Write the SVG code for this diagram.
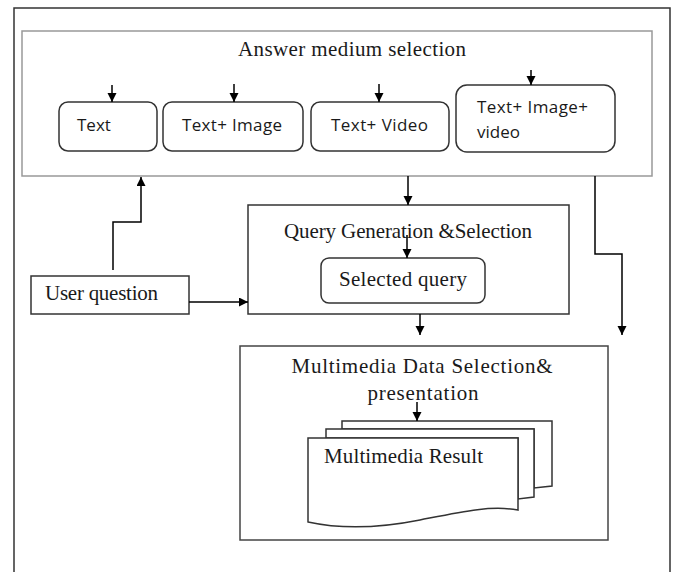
<svg xmlns="http://www.w3.org/2000/svg" width="683" height="572" viewBox="0 0 683 572">
<defs>
<marker id="ah" markerUnits="userSpaceOnUse" markerWidth="10" markerHeight="10" refX="9" refY="4.5" orient="auto">
<path d="M0,0 L9,4.5 L0,9 z" fill="#000"/>
</marker>
</defs>
<style>
.frame{fill:none;stroke:#333;stroke-width:1.5}
.box{fill:#fff;stroke:#333;stroke-width:1.5}
.abox{fill:#fff;stroke:#999;stroke-width:1.5}
.rbox{fill:#fff;stroke:#333;stroke-width:1.5}
.conn{fill:none;stroke:#000;stroke-width:1.5;marker-end:url(#ah)}
.serif{font-family:"Liberation Serif","Times New Roman",serif;font-size:21px;fill:#1a1a1a}
.sans{font-family:"Open Sans","Liberation Sans",sans-serif;font-size:17px;fill:#1a1a1a}
</style>
<rect width="683" height="572" fill="#fff"/>
<path class="frame" d="M14,572 V8 H670 V572"/>
<g id="answer-medium">
<rect class="abox" x="22" y="31" width="630" height="145"/>
<text class="serif" x="352" y="56" text-anchor="middle" textLength="228">Answer medium selection</text>
</g>
<g id="text-node">
<rect class="rbox" x="59" y="102" width="98" height="49" rx="9"/>
<text class="sans" x="77" y="131">Text</text>
</g>
<g id="text-image-node">
<rect class="rbox" x="163" y="102" width="140" height="49" rx="9"/>
<text class="sans" x="182" y="131" textLength="100">Text+ Image</text>
</g>
<g id="text-video-node">
<rect class="rbox" x="311" y="102" width="138" height="49" rx="9"/>
<text class="sans" x="331" y="131" textLength="97">Text+ Video</text>
</g>
<g id="text-image-video-node">
<rect class="rbox" x="456" y="85" width="159" height="67" rx="11"/>
<text class="sans" x="477" y="113" textLength="111">Text+ Image+</text>
<text class="sans" x="477" y="138">video</text>
</g>
<g id="query-generation">
<rect class="box" x="248" y="205" width="321" height="109"/>
<text class="serif" x="408" y="238" text-anchor="middle" textLength="248">Query Generation &amp;Selection</text>
</g>
<g id="selected-query">
<rect class="rbox" x="321" y="258" width="164" height="45" rx="8"/>
<text class="serif" x="403" y="286" text-anchor="middle" textLength="128">Selected query</text>
</g>
<g id="user-question">
<rect class="box" x="31" y="276" width="158" height="38"/>
<text class="serif" x="45" y="300" textLength="113">User question</text>
</g>
<g id="multimedia-selection">
<rect class="box" x="240" y="346" width="368" height="194" style="stroke:#444"/>
<text class="serif" x="422" y="373" text-anchor="middle" textLength="261">Multimedia Data Selection&amp;</text>
<text class="serif" x="423" y="400" text-anchor="middle" textLength="111">presentation</text>
</g>
<g id="multimedia-result">
<path class="box" d="M342,421 H552 V486 L534,488 V429 H342 Z"/>
<path class="box" d="M326,429 H534 V497 L518,499 V438 H326 Z"/>
<path class="box" d="M308,438 H518 V510 C490,505 460,512 420,520 C380,528 340,529 308,522 Z"/>
<text class="serif" x="324" y="463" textLength="159">Multimedia Result</text>
</g>
<g id="connectors">
<path class="conn" d="M112,85 V102"/>
<path class="conn" d="M234,84 V102"/>
<path class="conn" d="M379,84 V102"/>
<path class="conn" d="M531,70 V85"/>
<path class="conn" d="M408,176 V205"/>
<path class="conn" d="M407,235 V258"/>
<path class="conn" d="M420,314 V335"/>
<path class="conn" d="M595,176 V254 H622 V335"/>
<path class="conn" d="M113,270 V222 H141 V177"/>
<path class="conn" d="M189,302 H248"/>
<path class="conn" d="M417,402 V421"/>
</g>
</svg>
